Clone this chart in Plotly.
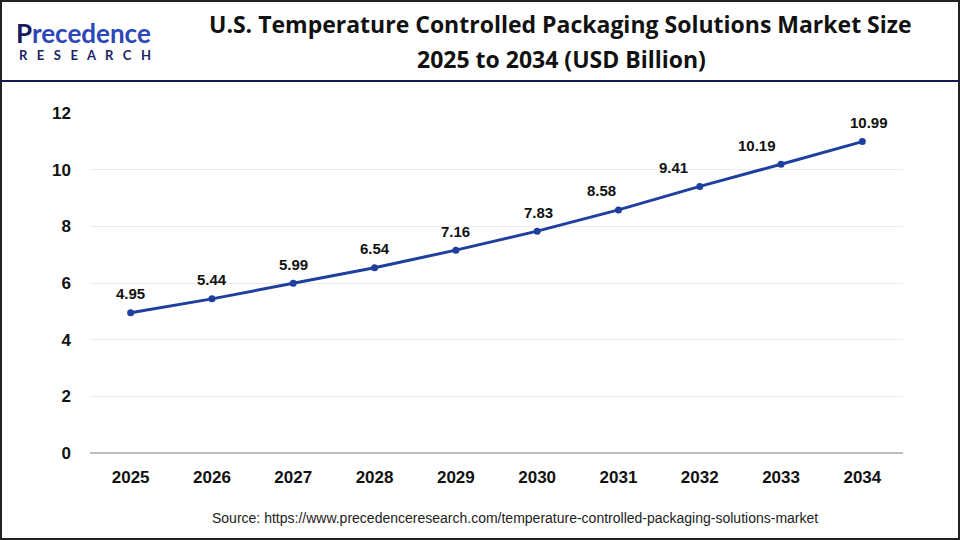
import plotly.graph_objects as go

years = ["2025", "2026", "2027", "2028", "2029", "2030", "2031", "2032", "2033", "2034"]
values = [4.95, 5.44, 5.99, 6.54, 7.16, 7.83, 8.58, 9.41, 10.19, 10.99]
labels = ["4.95", "5.44", "5.99", "6.54", "7.16", "7.83", "8.58", "9.41", "10.19", "10.99"]
y_ticks = [0, 2, 4, 6, 8, 10, 12]

# horizontal nudges (px) of the value labels, as placed in the reference
label_dx = [0, 0, 0, 0, 0, 1, -17, -26, -24, 7]

LINE = "#1f3f9e"
TXT = "#111111"

fig = go.Figure()
fig.add_trace(go.Scatter(
    x=years, y=values, mode="lines+markers",
    line=dict(color=LINE, width=3),
    marker=dict(color=LINE, size=7),
    cliponaxis=False,
    hoverinfo="skip",
))

for i, (v, lab, dx) in enumerate(zip(values, labels, label_dx)):
    fig.add_annotation(x=i, y=v, xref="x", yref="y", text=lab, showarrow=False, yshift=19, xshift=dx,
                       font=dict(family="Liberation Sans, Arial", size=15, color=TXT, weight="bold"),
                       xanchor="center", yanchor="middle")

fig.update_layout(
    width=960, height=540,
    paper_bgcolor="white", plot_bgcolor="white",
    margin=dict(l=90, r=57, t=113, b=87),
    showlegend=False,
    xaxis=dict(
        type="category", showgrid=False, showline=False, ticks="",
        tickfont=dict(family="Liberation Sans, Arial", size=17, color=TXT, weight="bold"),
        range=[-0.5, 9.5], fixedrange=True, ticklabelstandoff=12,
    ),
    yaxis=dict(
        range=[0, 12], tickvals=y_ticks, showgrid=True, gridcolor="#ebebeb", gridwidth=1,
        zeroline=True, zerolinecolor="#bdbdbd", zerolinewidth=2,
        showline=False, ticks="", ticklabelstandoff=18, fixedrange=True,
        tickfont=dict(family="Liberation Sans, Arial", size=17, color=TXT, weight="bold"),
    ),
)

W = 960 - 90 - 57
H = 540 - 113 - 87
def px(x):
    return (x - 90) / W
def py(y):
    return (540 - 87 - y) / H

fig.add_shape(type="rect", xref="paper", yref="paper", x0=px(1), x1=px(959), y0=py(539), y1=py(1),
              line=dict(color="#222222", width=2), fillcolor="rgba(0,0,0,0)")
fig.add_shape(type="line", xref="paper", yref="paper", x0=px(1), x1=px(959), y0=py(81), y1=py(81),
              line=dict(color="#141a4d", width=2))

fig.add_annotation(xref="paper", yref="paper", x=px(560), y=py(24), text="<b>U.S. Temperature Controlled Packaging Solutions Market Size</b>",
                   showarrow=False, font=dict(family="Open Sans, Noto Sans", size=23, color=TXT), xanchor="center", yanchor="middle")
fig.add_annotation(xref="paper", yref="paper", x=px(561), y=py(59), text="<b>2025 to 2034 (USD Billion)</b>",
                   showarrow=False, font=dict(family="Open Sans, Noto Sans", size=23, color=TXT), xanchor="center", yanchor="middle")

# logo
fig.add_annotation(xref="paper", yref="paper", x=px(15), y=py(33), height=26, borderpad=0,
                   text="<b><span style='color:#161c64'>P</span>recedence</b>",
                   showarrow=False, font=dict(family="Lato, Noto Sans", size=26, color="#2c47b8"), xanchor="left", yanchor="middle")
fig.add_annotation(xref="paper", yref="paper", x=px(18), y=py(55), height=13, borderpad=0,
                   text="<b>R&nbsp;&nbsp;&nbsp;E&nbsp;&nbsp;&nbsp;S&nbsp;&nbsp;&nbsp;E&nbsp;&nbsp;&nbsp;A&nbsp;&nbsp;&nbsp;R&nbsp;&nbsp;&nbsp;C&nbsp;&nbsp;&nbsp;H</b>",
                   showarrow=False, font=dict(family="Lato, Noto Sans", size=13, color="#1b2366"), xanchor="left", yanchor="middle")

fig.add_annotation(xref="paper", yref="paper", x=px(515), y=py(518),
                   text="Source: https://www.precedenceresearch.com/temperature-controlled-packaging-solutions-market",
                   showarrow=False, font=dict(family="Liberation Sans, Arial", size=14, color="#222222"), xanchor="center", yanchor="middle")

fig.write_html("out.html", config={"displayModeBar": False},
               post_script="document.body.style.margin='0';document.body.style.overflow='hidden';")
